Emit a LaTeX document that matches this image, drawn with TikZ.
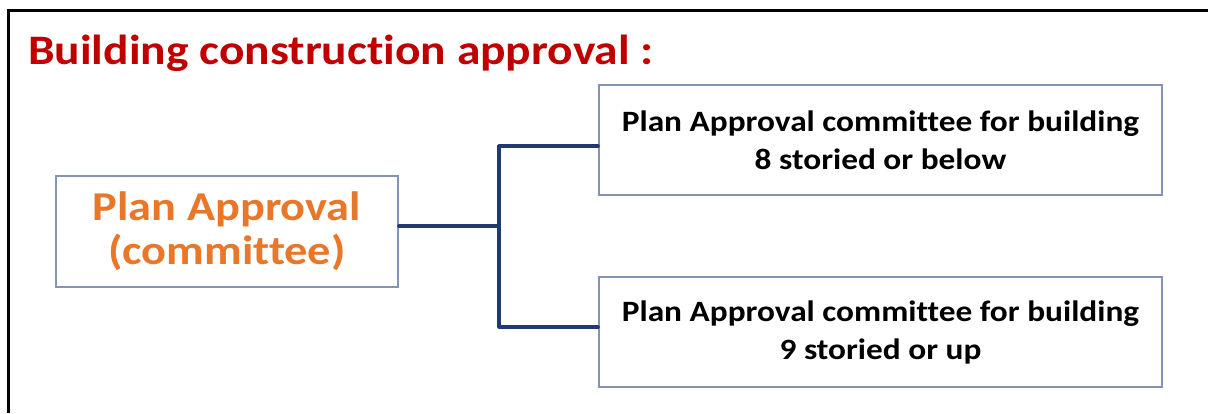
\documentclass[tikz,border=0pt]{standalone}
\usepackage{fontspec}
\setmainfont{Carlito}[FakeStretch=1.13, Ligatures=NoCommon]
\definecolor{titlered}{HTML}{C00000}
\definecolor{planorange}{HTML}{E8772A}
\definecolor{boxline}{HTML}{8494B4}
\definecolor{connavy}{HTML}{1F3A72}
\begin{document}
\begin{tikzpicture}[x=1pt,y=-1pt,
  box/.style={draw=boxline, line width=1.6pt, fill=white, align=center,
    inner sep=0pt, font=\bfseries},
  conn/.style={draw=connavy, line width=3.2pt, line cap=round, line join=round},
  frame/.style={draw=black, line width=3pt}]
\useasboundingbox (0,0) rectangle (1208,413);
% outer frame (top and left edges)
\draw[frame] (8,413) -- (8,10) -- (1208,10);
% title
\node[anchor=base west, inner sep=0pt, text=titlered,
  font=\fontsize{42}{48}\selectfont\bfseries] (title) at (28,64)
  {Building construction approval :};
% boxes
\node[box, minimum width=342pt, minimum height=111pt, text=planorange,
  font=\fontsize{41}{44}\selectfont\bfseries] (lb) at (227,231.5)
  {Plan Approval\\(committee)};
\node[box, minimum width=563pt, minimum height=110pt,
  font=\fontsize{29.5}{38}\selectfont\bfseries] (r1) at (880.5,140)
  {Plan Approval committee for building\\8 storied or below};
\node[box, minimum width=563pt, minimum height=110pt,
  font=\fontsize{29.5}{38}\selectfont\bfseries] (r2) at (880.5,332)
  {Plan Approval committee for building\\9 storied or up};
% elbow connectors
\coordinate (jn) at (499,226);
\coordinate (jt) at (499,146);
\coordinate (jb) at (499,327);
\draw[conn] (lb.east |- jn) -- (jn);
\draw[conn] (r1.west |- jt) -- (jt) -- (jb) -- (r2.west |- jb);
\end{tikzpicture}
\end{document}
